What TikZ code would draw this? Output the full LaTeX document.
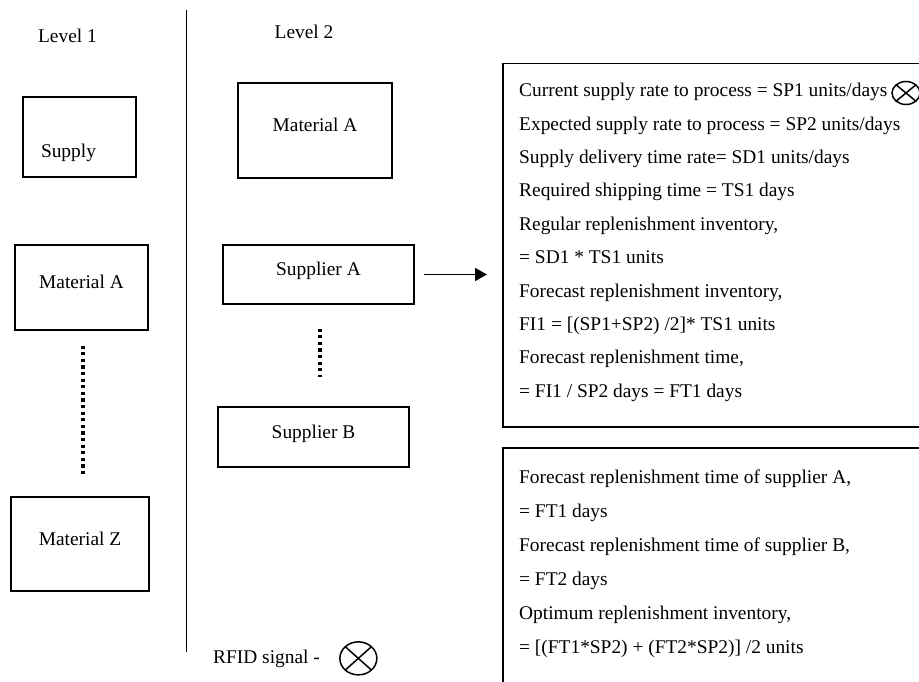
\documentclass[tikz,border=0pt]{standalone}
\usepackage{fontspec}
\setmainfont{Liberation Serif}
\usetikzlibrary{positioning}
\usetikzlibrary{arrows.meta}
\usetikzlibrary{shapes.geometric}

\begin{document}
\begin{tikzpicture}[x=1pt, y=-1pt,
    lbl/.style={inner sep=0pt, font=\fontsize{19.4}{23}\selectfont},
    box/.style={draw, line width=1.3pt, inner sep=0pt, font=\fontsize{19.4}{23}\selectfont, text height=14pt, text depth=12pt},
    frame/.style={draw, line width=1.5pt, inner sep=0pt, anchor=north west, minimum width=440pt},
    calc/.style={inner sep=0pt, align=left},
    dots/.style={line width=3.2pt, dash pattern=on 3.2pt off 3.4pt},
    sig/.style={ellipse, draw, line width=1.5pt, inner sep=0pt, path picture={
        \draw[line width=1.5pt] (path picture bounding box.north west) -- (path picture bounding box.south east)
                                (path picture bounding box.north east) -- (path picture bounding box.south west);}}]
  \clip (0,0) rectangle (919,682);

  % level 1
  \node[lbl, anchor=base] (lev1) at (67.5,43) {Level 1};
  \node[box, minimum width=113pt, minimum height=80pt, text width=77pt, align=left, text height=42pt, text depth=0pt] (supply) at (79.5,137) {Supply};
  \node[box, minimum width=133pt, minimum height=85pt] (matA1) at (81.5,287.5) {Material A};
  \node[box, minimum width=138pt, minimum height=94pt] (matZ) at (80,544) {Material Z};
  \draw[dots] ([xshift=1.5pt, yshift=-15pt]matA1.south) -- ([xshift=3pt, yshift=20pt]matZ.north);

  \coordinate (sep-top) at (186,10);
  \coordinate (sep-bot) at (186,652);
  \draw[line width=1pt] (sep-top) -- (sep-bot);

  % level 2
  \node[lbl, anchor=base] (lev2) at (304,39) {Level 2};
  \node[box, minimum width=154pt, minimum height=95pt] (matA2) at (315,130.5) {Material A};
  \node[box, minimum width=191pt, minimum height=59pt] (supA) at (318.5,274.5) {Supplier A};
  \node[box, minimum width=191pt, minimum height=60pt] (supB) at (313.5,437) {Supplier B};
  \draw[dots] ([xshift=1.5pt, yshift=-24pt]supA.south) -- ([xshift=6.5pt, yshift=29pt]supB.north);

  % calculations
  \node[frame, minimum height=363pt] (calcA) at (502,63) {};
  \node[calc, font=\fontsize{19.4}{33.4}\selectfont, below right=20pt and 17pt of calcA.north west] (calcA-txt) {%
    Current supply rate to process = SP1 units/days\\
    Expected supply rate to process = SP2 units/days\\
    Supply delivery time rate= SD1 units/days\\
    Required shipping time = TS1 days\\
    Regular replenishment inventory,\\
    = SD1 * TS1 units\\
    Forecast replenishment inventory,\\
    FI1 = [(SP1+SP2) /2]* TS1 units\\
    Forecast replenishment time,\\
    = FI1 / SP2 days = FT1 days};
  \node[sig, minimum width=28pt, minimum height=23pt] (sig-calc) at (906,93) {};

  \node[frame, minimum height=260pt] (calcB) at (502,447) {};
  \node[calc, font=\fontsize{19.4}{34}\selectfont, below right=23pt and 17pt of calcB.north west] (calcB-txt) {%
    Forecast replenishment time of supplier A,\\
    = FT1 days\\
    Forecast replenishment time of supplier B,\\
    = FT2 days\\
    Optimum replenishment inventory,\\
    = [(FT1*SP2) + (FT2*SP2)] /2 units};

  \draw[line width=1.6pt, -{Triangle[length=12pt, width=13pt]}] ([xshift=9pt]supA.east) -- ([xshift=-15pt]supA.east -| calcA.west);

  % legend
  \node[lbl, anchor=base west] (rfid-lbl) at (213,663) {RFID signal -};
  \node[sig, minimum width=37pt, minimum height=33pt, right=19pt of rfid-lbl] (sig-key) {};
\end{tikzpicture}
\end{document}
